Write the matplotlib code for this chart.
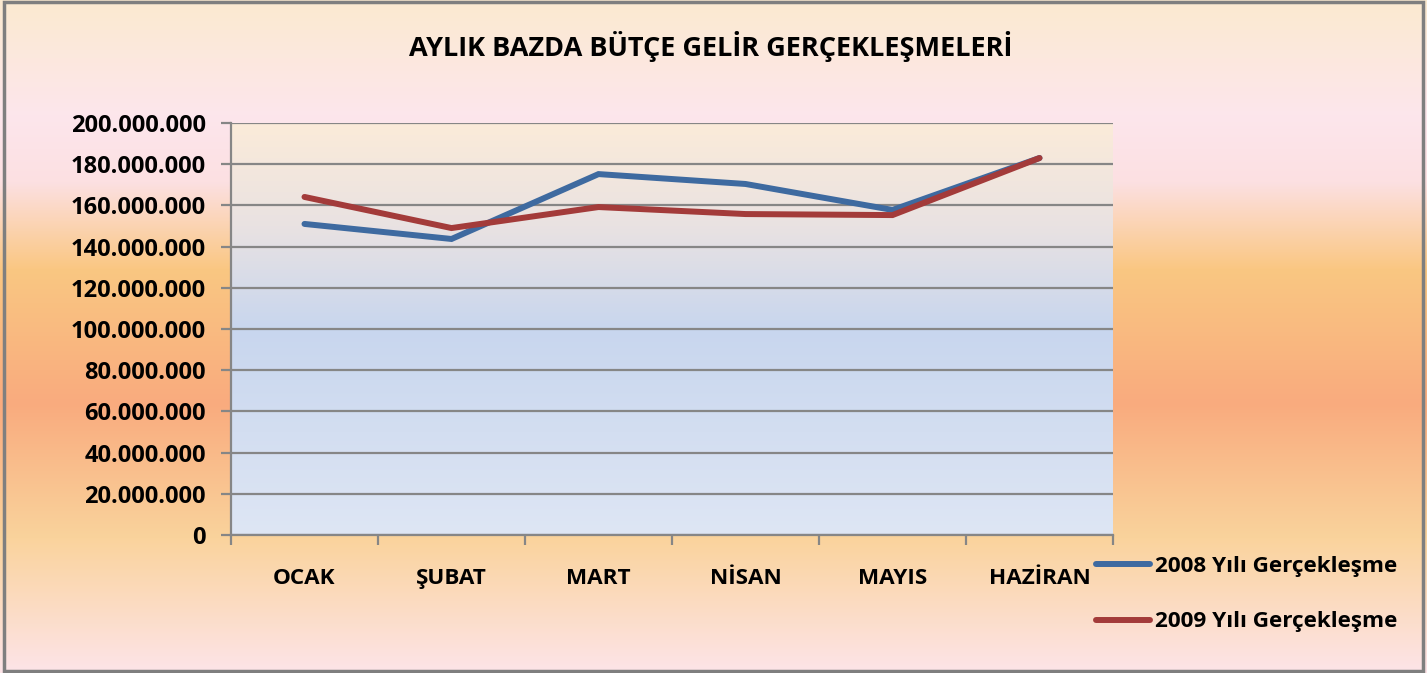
import numpy as np
import matplotlib
matplotlib.use('Agg')
import matplotlib.pyplot as plt
from matplotlib.colors import LinearSegmentedColormap
from matplotlib.ticker import FuncFormatter, FixedLocator

plt.rcParams['font.family'] = ['Open Sans', 'DejaVu Sans']
plt.rcParams['font.weight'] = 'bold'

months = ['OCAK', 'ŞUBAT', 'MART', 'NİSAN', 'MAYIS', 'HAZİRAN']
gelir_2008 = [151.0e6, 143.7e6, 175.2e6, 170.4e6, 157.8e6, 183.0e6]
gelir_2009 = [164.1e6, 149.0e6, 159.2e6, 155.8e6, 155.3e6, 183.0e6]
labels = ['2008 Yılı Gerçekleşme', '2009 Yılı Gerçekleşme']
title = 'AYLIK BAZDA BÜTÇE GELİR GERÇEKLEŞMELERİ'

W, H = 1427, 673
fig = plt.figure(figsize=(W / 100, H / 100), dpi=100)

# arka plan gradyanı (figure)
bg = fig.add_axes([0, 0, 1, 1], zorder=-10)
bg_cmap = LinearSegmentedColormap.from_list('bg', [
    (0.00, '#FBEAD0'), (0.17, '#FDE6EC'), (0.27, '#FCE0E2'), (0.40, '#FAC782'),
    (0.60, '#F9AB7E'), (0.80, '#FAD39C'), (1.00, '#FDE4E8')])
bg.imshow(np.linspace(0, 1, 256).reshape(-1, 1), aspect='auto', cmap=bg_cmap,
          extent=[0, 1, 1, 0])
bg.set_xlim(0, 1)
bg.set_ylim(1, 0)
bg.axis('off')
bg.add_patch(plt.Rectangle((0.003, 0.003), 0.994, 0.994, fill=False,
                           edgecolor='#7F7F7F', lw=2.5, transform=bg.transAxes))

# çizim alanı
x0, x1 = 231 / W, 1113 / W
y0, y1 = 1 - 535 / H, 1 - 123 / H
ax = fig.add_axes([x0, y0, x1 - x0, y1 - y0])
pa_cmap = LinearSegmentedColormap.from_list('pa', [
    (0.00, '#FBEBD9'), (0.25, '#E9E2E2'), (0.50, '#C8D6EE'), (1.00, '#DEE6F4')])
ax.imshow(np.linspace(0, 1, 256).reshape(-1, 1), aspect='auto', cmap=pa_cmap,
          extent=[-0.5, 5.5, 0, 200e6], zorder=0)

x = np.arange(len(months))
ax.plot(x, gelir_2008, color='#3E6AA0', lw=4.3, solid_capstyle='round',
        solid_joinstyle='miter', label=labels[0], zorder=3)
ax.plot(x, gelir_2009, color='#A33B3A', lw=4.3, solid_capstyle='round',
        solid_joinstyle='miter', label=labels[1], zorder=3)

ax.set_xlim(-0.5, 5.5)
ax.set_ylim(0, 200e6)
ax.set_yticks(np.arange(0, 200e6 + 1, 20e6))
ax.yaxis.set_major_formatter(FuncFormatter(lambda v, p: f'{int(v):,}'.replace(',', '.')))
ax.grid(axis='y', color='#868686', lw=1.6, zorder=1)
ax.set_xticks(x)
ax.set_xticklabels(months)
ax.xaxis.set_minor_locator(FixedLocator(np.arange(-0.5, 6, 1)))
ax.tick_params(axis='x', which='major', length=0, pad=24, labelsize=16.2)
ax.tick_params(axis='x', which='minor', length=7, width=1.6, color='#868686')
ax.tick_params(axis='y', length=7, width=1.6, color='#868686', pad=11, labelsize=17)
for s in ['top', 'right']:
    ax.spines[s].set_visible(False)
for s in ['left', 'bottom']:
    ax.spines[s].set_color('#868686')
    ax.spines[s].set_linewidth(1.6)
ax.set_axisbelow(False)

fig.text(711 / W, 1 - 46 / H, title, ha='center', va='center', fontsize=19.5,
         fontweight='bold')

leg = fig.legend(loc='center left', bbox_to_anchor=(1076 / W, 1 - 594 / H),
                 frameon=False, fontsize=16.2, handlelength=2.4, handletextpad=0.2,
                 labelspacing=1.55)

fig.savefig('out.png', dpi=100)
